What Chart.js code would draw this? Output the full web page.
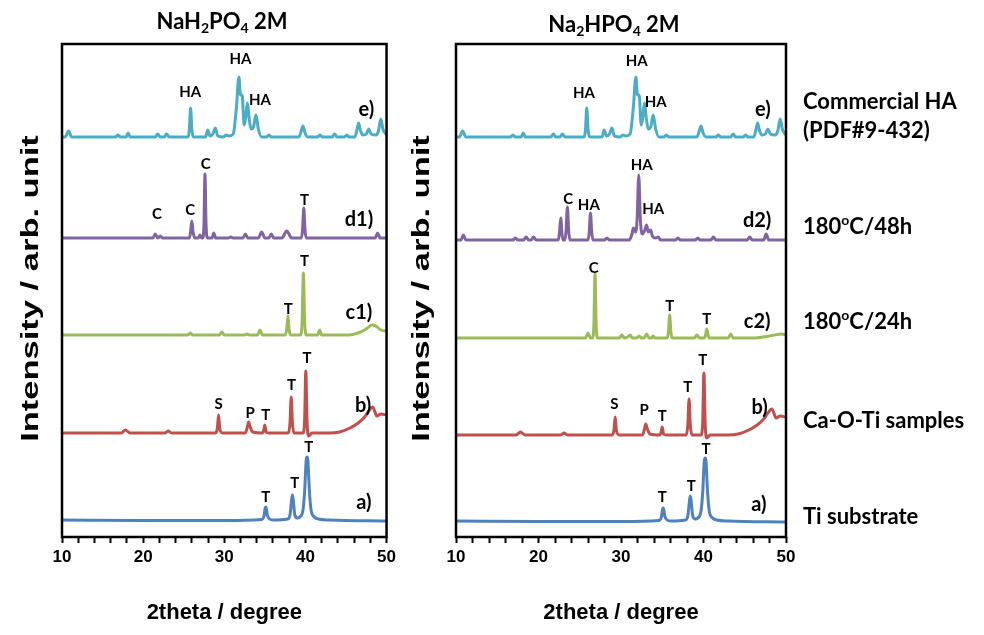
<!DOCTYPE html>
<html>
<head>
<meta charset="utf-8">
<script src="https://cdn.jsdelivr.net/npm/chart.js@4.4.1/dist/chart.umd.min.js"></script>
<style>
  body { margin: 0; background: #fff; }
  #wrap { position: relative; width: 984px; height: 635px; }
  canvas { position: absolute; top: 0; }
  #left { left: 0; }
  #right { left: 400px; }
</style>
</head>
<body>
<div id="wrap">
  <canvas id="left" width="400" height="635"></canvas>
  <canvas id="right" width="584" height="635"></canvas>
</div>
<script>
// XRD patterns: [2theta (deg), intensity above the trace's own baseline (arb. unit)]
const xTickLabels = [10, 20, 30, 40, 50];

const tiSubstrate = [[10,0],[20,-0.5],[30,-0.5],[34.6,0.5],[34.9,4],[35.05,12],[35.15,13],[35.3,5],[35.6,1],[36,0],
  [37.8,1],[38.1,5],[38.3,20],[38.4,25],[38.5,20],[38.7,5],[39.0,2],[39.3,3],[39.7,10],[39.9,28],[40.1,60],[40.2,63],
  [40.3,60],[40.5,28],[40.7,10],[41.1,3],[41.6,1],[43,0],[50,-1]];

const caOTi = [[10,0],[17.3,0],[17.8,3],[18.4,0],[22.7,0],[23.1,2],[23.5,0],[28.9,0],[29.15,5],[29.3,18],[29.45,4],[29.8,0],
  [32.6,0],[32.85,6],[33.0,11],[33.2,6],[33.5,1],[34.7,0],[34.9,4],[35.0,8],[35.15,1],[35.5,0],[37.9,0],[38.1,10],
  [38.25,36],[38.4,10],[38.6,0],[39.7,0],[39.9,12],[40.05,62],[40.2,12],[40.4,-3],[40.8,0],[43,0],[44.2,1],[45.5,5],
  [46.5,10],[47.3,16],[47.8,22],[48.3,26],[48.8,17],[49.3,19],[50,18]];

const nah24h = [[10,0],[20,0],[25.5,0],[25.8,2],[26.1,0],[29.4,0],[29.7,3],[30.0,0],[32.5,0],[32.8,1],[33.1,0],[34.1,0],
  [34.4,5],[34.7,0],[37.5,0],[37.7,6],[37.85,19],[38.0,5],[38.2,0],[39.4,0],[39.6,15],[39.75,62],[39.9,15],[40.1,0],
  [41.5,0],[41.75,5],[42.0,0],[45.3,0],[46.5,2],[47.5,6],[48.2,10],[48.7,9],[49.3,5],[50,4]];

const nah48h = [[10,0],[21.2,0],[21.5,4],[21.8,0],[22.1,2],[22.4,0],[25.7,0],[25.85,6],[26.0,17],[26.15,6],[26.4,0],
  [26.8,0],[27.0,3],[27.2,0],[27.35,0],[27.5,15],[27.62,64],[27.75,15],[27.9,0],[28.5,0],[28.7,5],[28.95,0],[30.5,0],
  [30.8,1],[31.1,0],[32.3,0],[32.6,4],[32.9,0],[34.2,0],[34.6,6],[35.0,0],[35.5,0],[35.8,4],[36.1,0],[37.1,0],[37.7,7],
  [38.3,0],[39.5,0],[39.65,8],[39.8,30],[39.95,8],[40.1,0],[48.6,0],[48.9,5],[49.2,0],[50,0]];

const na2h24h = [[10,0],[20,0],[25.7,0],[26.0,5],[26.3,0],[26.55,0],[26.72,15],[26.85,64],[26.98,15],[27.15,0],[29.8,0],
  [30.1,3],[30.4,0],[30.8,1],[31.1,3],[31.4,0],[31.9,0],[32.2,2],[32.5,0],[32.8,0],[33.1,4],[33.4,0],[33.7,0],[33.9,2],
  [34.1,0],[35.6,0],[35.75,6],[35.9,23],[36.05,6],[36.2,0],[38.9,0],[39.2,3],[39.5,0],[40.1,0],[40.25,3],[40.4,9],
  [40.55,3],[40.7,0],[43.0,0],[43.3,4],[43.6,0],[46,0],[48,2],[49.5,4],[50,3]];

const na2h48h = [[10,0],[10.6,0],[10.9,5],[11.2,0],[16.9,0],[17.2,2],[17.5,0],[18.2,0],[18.5,3],[18.8,0],[19.1,0],
  [19.4,3],[19.7,0],[22.4,0],[22.55,8],[22.7,22],[22.85,6],[23.0,0],[23.2,0],[23.35,10],[23.5,33],[23.65,10],[23.8,0],
  [26.0,0],[26.15,8],[26.3,27],[26.45,8],[26.6,0],[28.0,0],[28.3,2],[28.6,0],[31.0,0],[31.3,5],[31.5,12],[31.75,8],
  [31.95,20],[32.15,65],[32.35,20],[32.6,6],[32.9,10],[33.1,15],[33.3,8],[33.6,10],[33.8,4],[34.2,2],[34.5,3],[34.8,0],
  [36.6,0],[36.9,2],[37.2,0],[39.0,0],[39.3,2],[39.6,0],[40.9,0],[41.2,3],[41.5,0],[45.3,0],[45.6,3],[45.9,0],[47.3,0],
  [47.6,6],[47.9,0],[50,0]];

const commercialHA = [[10,0],[10.4,0],[10.8,6],[11.2,0],[16.6,0],[16.9,2],[17.2,0],[17.9,0],[18.15,4],[18.4,0],[21.5,0],
  [21.8,3],[22.1,0],[22.6,0],[22.9,3],[23.2,0],[25.55,0],[25.7,8],[25.85,29],[26.0,8],[26.2,0],[27.7,0],[27.95,7],
  [28.25,1],[28.6,3],[28.9,9],[29.2,1],[29.9,0],[30.2,2],[30.6,1],[31.1,3],[31.5,30],[31.8,60],[32.0,42],[32.2,42],
  [32.45,12],[32.65,20],[32.85,34],[33.05,20],[33.3,8],[33.6,10],[33.9,22],[34.2,8],[34.6,0],[35.2,0],[35.5,2],[35.8,0],
  [39.2,0],[39.45,5],[39.7,11],[39.95,4],[40.3,0],[41.5,0],[41.8,2],[42.1,0],[43.3,0],[43.6,3],[43.9,0],[44.8,0],
  [45.1,2],[45.4,0],[46.1,0],[46.35,7],[46.55,14],[46.8,6],[47.1,2],[47.5,3],[47.8,8],[48.1,3],[48.7,2],[49.0,6],
  [49.3,18],[49.55,8],[50,2]];

const leftTraces = [tiSubstrate, caOTi, nah24h, nah48h, commercialHA];
const rightTraces = [tiSubstrate, caOTi, na2h24h, na2h48h, commercialHA];
const leftOffsets = [17, 104, 202, 299, 400];
const rightOffsets = [16, 102, 199, 297, 400];
const traceColors = ['#4F81BD', '#C0504D', '#9BBB59', '#8064A2', '#4BACC6'];

// phase marks [2theta, height, text]
const leftPeakLabels = [
  [25.8, 445, 'HA'], [32.0, 478, 'HA'], [34.4, 437, 'HA'],
  [21.7, 323, 'C'], [25.8, 327, 'C'], [27.7, 373, 'C'], [39.9, 337, 'T'],
  [37.9, 228, 'T'], [39.9, 276, 'T'],
  [29.3, 133, 'S'], [33.2, 124, 'P'], [35.1, 122, 'T'], [38.3, 152, 'T'], [40.2, 179, 'T'],
  [35.1, 40, 'T'], [38.7, 54, 'T'], [40.4, 90, 'T']
];
const rightPeakLabels = [
  [25.5, 444, 'HA'], [31.9, 476, 'HA'], [34.2, 435, 'HA'],
  [23.6, 338, 'C'], [26.1, 332, 'HA'], [32.5, 372, 'HA'], [33.9, 328, 'HA'],
  [26.7, 269, 'C'], [35.9, 231, 'T'], [40.4, 218, 'T'],
  [29.2, 133, 'S'], [32.8, 127, 'P'], [35.0, 121, 'T'], [38.1, 150, 'T'], [39.9, 177, 'T'],
  [35.0, 40, 'T'], [38.5, 51, 'T'], [40.3, 88, 'T']
];
const leftTags = [[47.2, 34, 'a)'], [47.1, 131, 'b)'], [46.6, 224, 'c1)'], [46.6, 317, 'd1)'], [47.5, 427, 'e)']];
const rightTags = [[46.7, 32, 'a)'], [46.8, 129, 'b)'], [46.5, 215, 'c2)'], [46.5, 316, 'd2)'], [47.2, 427, 'e)']];

const leftTitle = [['NaH'], ['2', 'sub'], ['PO'], ['4', 'sub'], [' 2M']];
const rightTitle = [['Na'], ['2', 'sub'], ['HPO'], ['4', 'sub'], [' 2M']];
const yTitle = 'Intensity / arb. unit';
const sampleNames = [
  [[['Ti substrate']], 20],
  [[['Ca-O-Ti samples']], 116],
  [[['180'], ['o', 'sup'], ['C/24h']], 215],
  [[['180'], ['o', 'sup'], ['C/48h']], 310],
  [[['(PDF#9-432)']], 406],
  [[['Commercial HA']], 435]
];

function drawRich(ctx, parts, x, y, size, align) {
  const small = Math.round(size * 0.65);
  const fontOf = m => 'bold ' + (m ? small : size) + 'px Lato';
  let w = 0;
  parts.forEach(([s, m]) => { ctx.font = fontOf(m); w += ctx.measureText(s).width; });
  let cx = align === 'center' ? x - w / 2 : x;
  ctx.textAlign = 'left';
  parts.forEach(([s, m]) => {
    ctx.font = fontOf(m);
    const dy = m === 'sub' ? size * 0.3 : m === 'sup' ? -size * 0.3 : 0;
    ctx.fillText(s, cx, y + dy);
    cx += ctx.measureText(s).width;
  });
}

const annotate = {
  id: 'annotate',
  afterDatasetsDraw(chart, args, o) {
    const { ctx, chartArea: a, scales: { x, y } } = chart;
    ctx.save();
    ctx.fillStyle = '#000';
    ctx.textBaseline = 'middle';
    ctx.textAlign = 'center';
    ctx.font = 'bold 15px Lato';
    o.peaks.forEach(([t, v, s]) => ctx.fillText(s, x.getPixelForValue(t), y.getPixelForValue(v)));
    ctx.font = 'bold 20px Lato';
    o.tags.forEach(([t, v, s]) => ctx.fillText(s, x.getPixelForValue(t), y.getPixelForValue(v)));
    ctx.lineWidth = 2.5;
    ctx.strokeStyle = '#000';
    ctx.strokeRect(a.left, a.top, a.width, a.height);
    drawRich(ctx, o.title, o.titleAt[0], o.titleAt[1], 22, 'center');
    (o.samples || []).forEach(([parts, v]) => drawRich(ctx, parts, a.right + 17, y.getPixelForValue(v), 22, 'left'));
    // y axis title, stretched along its length like the source figure
    ctx.save();
    ctx.translate(o.yTitleX, (a.top + a.bottom) / 2 - 2);
    ctx.rotate(-Math.PI / 2);
    ctx.scale(1.5, 1);
    ctx.textAlign = 'center';
    ctx.font = 'bold 23px "Liberation Sans"';
    ctx.fillText(yTitle, 0, 0);
    ctx.restore();
    ctx.restore();
  }
};

const axisFont = size => ({ family: 'Liberation Sans', size: size, weight: 'bold' });

function makeChart(id, traces, offsets, yWidth, padRight, marks) {
  return new Chart(document.getElementById(id), {
    type: 'line',
    data: {
      datasets: traces.map((pts, i) => ({
        data: pts.map(([t, v]) => ({ x: t, y: v + offsets[i] })),
        borderColor: traceColors[i],
        borderWidth: 3,
        pointRadius: 0,
        cubicInterpolationMode: 'monotone',
        fill: false
      }))
    },
    options: {
      responsive: false,
      animation: false,
      layout: { padding: { top: 44, right: padRight, bottom: 0, left: 0 } },
      plugins: { legend: { display: false }, tooltip: { enabled: false }, annotate: marks },
      scales: {
        x: {
          type: 'linear', min: 10, max: 50,
          ticks: {
            stepSize: 2, autoSkip: false, maxRotation: 0, padding: 4, color: '#000', font: axisFont(17),
            callback: v => xTickLabels.includes(v) ? String(v) : ''
          },
          grid: { drawOnChartArea: false, drawTicks: true, tickLength: 6, tickWidth: 2, tickColor: '#000' },
          border: { display: false },
          title: { display: true, text: '2theta / degree', color: '#000', font: axisFont(22), padding: { top: 0, bottom: 9 } },
          afterFit: s => { s.height = 98; }
        },
        y: {
          min: 0, max: 493,
          ticks: { display: false },
          grid: { display: false },
          border: { display: false },
          afterFit: s => { s.width = yWidth; }
        }
      }
    },
    plugins: [annotate]
  });
}

makeChart('left', leftTraces, leftOffsets, 62, 10,
  { peaks: leftPeakLabels, tags: leftTags, title: leftTitle, titleAt: [222, 22], yTitleX: 32 });
makeChart('right', rightTraces, rightOffsets, 56, 198,
  { peaks: rightPeakLabels, tags: rightTags, title: rightTitle, titleAt: [214, 25], yTitleX: 23, samples: sampleNames });
</script>
</body>
</html>
